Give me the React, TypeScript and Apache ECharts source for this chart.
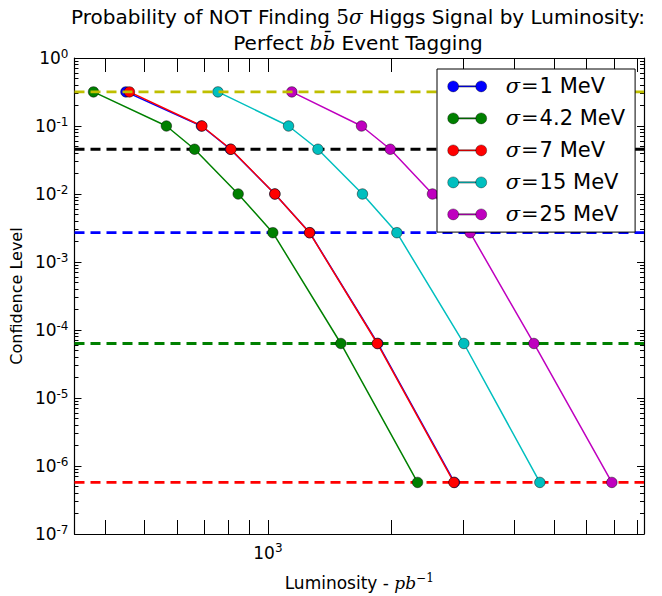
import React, { useEffect, useRef } from 'react';
import * as echarts from 'echarts';

// ---- data ----
const SIGMA_WIDTHS = ['1', '4.2', '7', '15', '25'];
const SERIES_COLORS = ['#0000ff', '#008000', '#ff0000', '#00bfbf', '#bf00bf'];
const CONFIDENCE = [0.3173, 0.1, 0.0455, 0.01, 0.0027, 6.334e-5, 5.733e-7];
const LUM_1 = [450, 688, 810, 1040, 1265, 1855, 2855];
const LUM_4_2 = [375, 565, 662, 846, 1028, 1507, 2320];
const LUM_7 = [459, 690, 812, 1040, 1264, 1850, 2846];
const LUM_15 = [755, 1123, 1325, 1702, 2065, 3010, 4615];
const LUM_25 = [1144, 1693, 1990, 2523, 3119, 4463, 6918];
const LUMINOSITIES = [LUM_1, LUM_4_2, LUM_7, LUM_15, LUM_25];
const THRESHOLDS = [0.3173, 0.0455, 0.0027, 6.334e-5, 5.733e-7];
const THRESHOLD_COLORS = ['#bfbf00', '#000000', '#0000ff', '#008000', '#ff0000'];
const X_MIN = 337;
const X_MAX = 8290;
const X_TICKS = [400, 500, 600, 700, 800, 900, 1000, 2000, 3000, 4000, 5000, 6000, 7000, 8000];
const X_TICK_LABELS = [1000];
const Y_MIN = 1e-7;
const Y_MAX = 1;
const Y_MINOR_EXPONENTS = [-7, -6, -5, -4, -3, -2, -1];
const Y_MINOR_MANTISSAS = [2, 3, 4, 5, 6, 7, 8, 9];

const FONT = 'DejaVu Sans';
const MATH = 'DejaVu Serif';

const Y_MINOR_TICKS: number[] = [];
Y_MINOR_EXPONENTS.forEach((e) => {
  Y_MINOR_MANTISSAS.forEach((m) => Y_MINOR_TICKS.push(Number(`${m}e${e}`)));
});

const supRich = {
  b: { fontFamily: FONT, fontSize: 17, color: '#000', lineHeight: 19 },
  e: { fontFamily: FONT, fontSize: 12, color: '#000', padding: [0, 0, 9, 0] },
};

const expLabel = (v: number) => `{b|10}{e|${Math.round(Math.log10(v))}}`;

const LEGEND_ICON =
  'path://M0,5.5A5.5,5.5,0,1,1,11,5.5A5.5,5.5,0,1,1,0,5.5Z M28,5.5A5.5,5.5,0,1,1,39,5.5A5.5,5.5,0,1,1,28,5.5Z M11,4.8L28,4.8L28,6.2L11,6.2Z';

export default function App() {
  const ref = useRef<HTMLDivElement>(null);

  useEffect(() => {
    if (!ref.current) return;
    const chart = echarts.init(ref.current, undefined, { renderer: 'svg' });

    const names = SIGMA_WIDTHS.map((w) => `σ=${w} MeV`);

    const lineSeries = names.map((name, i) => ({
      name,
      type: 'line',
      data: LUMINOSITIES[i].map((x, j) => [x, CONFIDENCE[j]]),
      symbol: 'circle',
      symbolSize: 10.5,
      z: 2,
      lineStyle: { color: SERIES_COLORS[i], width: 1.5 },
      itemStyle: { color: SERIES_COLORS[i], borderColor: 'rgba(0,0,0,0.6)', borderWidth: 0.8 },
      emphasis: { disabled: true },
    }));

    const thresholdSeries = THRESHOLDS.map((t, i) => ({
      name: `threshold-${i}`,
      type: 'line',
      data: [
        [X_MIN, t],
        [X_MAX, t],
      ],
      symbol: 'none',
      z: i === 0 ? 3 : 1,
      silent: true,
      lineStyle: { color: THRESHOLD_COLORS[i], type: [10, 6], width: 2.8 },
      emphasis: { disabled: true },
    }));

    const axisLine = { show: true, lineStyle: { color: '#000', width: 1.2 } };

    chart.setOption({
      animation: false,
      textStyle: { fontFamily: FONT },
      title: {
        text: 'Probability of NOT Finding {m|5}{mi|σ} Higgs Signal by Luminosity:\nPerfect {mi|b}{mi|b\u0304} Event Tagging',
        left: 358,
        top: 4,
        textAlign: 'center',
        padding: 0,
        textStyle: {
          fontFamily: FONT,
          fontSize: 20,
          fontWeight: 'normal',
          color: '#000',
          lineHeight: 26,
          rich: {
            m: { fontFamily: MATH, fontSize: 20, lineHeight: 26, color: '#000' },
            mi: { fontFamily: MATH, fontStyle: 'italic', fontSize: 20, lineHeight: 26, color: '#000' },
          },
        },
      },
      legend: {
        data: names,
        orient: 'vertical',
        left: 437,
        top: 69,
        z: 10,
        padding: [6.4, 10, 6.7, 10.4],
        itemGap: 10,
        itemWidth: 39,
        itemHeight: 11,
        icon: LEGEND_ICON,
        selectedMode: false,
        backgroundColor: '#fff',
        borderColor: '#000',
        borderWidth: 1,
        itemStyle: { borderWidth: 0.6, borderColor: 'rgba(0,0,0,0.6)' },
        formatter: (name: string) => `{m|σ}{q|=}{t|${name.slice(2)}}`,
        textStyle: {
          fontSize: 21,
          lineHeight: 22,
          color: '#000',
          rich: {
            m: { fontFamily: MATH, fontStyle: 'italic', fontSize: 21, color: '#000', padding: [0, 0, 0, 14] },
            q: { fontFamily: MATH, fontSize: 21, color: '#000', padding: [0, 1, 0, 1] },
            t: { fontFamily: FONT, fontSize: 21, color: '#000' },
          },
        },
      },
      grid: { left: 74, right: 18, top: 58, bottom: 62, containLabel: false },
      xAxis: [
        {
          type: 'log',
          position: 'bottom',
          min: X_MIN,
          max: X_MAX,
          axisLine,
          splitLine: { show: false },
          axisTick: { inside: true, length: 14, customValues: X_TICKS, lineStyle: { color: '#000', width: 1 } },
          axisLabel: { customValues: X_TICK_LABELS, margin: 8, formatter: expLabel, rich: supRich },
          name: 'Luminosity - {mi|pb}{e|\u22121}',
          nameLocation: 'middle',
          nameGap: 38,
          nameTextStyle: {
            fontFamily: FONT,
            fontSize: 17,
            color: '#000',
            rich: {
              mi: { fontFamily: MATH, fontStyle: 'italic', fontSize: 17, color: '#000' },
              e: { fontFamily: MATH, fontSize: 12, color: '#000', padding: [0, 0, 9, 0] },
            },
          },
        },
        {
          type: 'log',
          position: 'top',
          min: X_MIN,
          max: X_MAX,
          axisLine,
          splitLine: { show: false },
          axisTick: { inside: true, length: 14, customValues: X_TICKS, lineStyle: { color: '#000', width: 1 } },
          axisLabel: { show: false },
        },
      ],
      yAxis: [
        {
          type: 'log',
          position: 'left',
          min: Y_MIN,
          max: Y_MAX,
          axisLine,
          splitLine: { show: false },
          axisTick: { inside: true, length: 7, lineStyle: { color: '#000', width: 1 } },
          axisLabel: { margin: 6, formatter: expLabel, rich: supRich },
          name: 'Confidence Level',
          nameLocation: 'middle',
          nameGap: 48,
          nameTextStyle: { fontFamily: FONT, fontSize: 16, color: '#000' },
        },
        {
          type: 'log',
          position: 'left',
          min: Y_MIN,
          max: Y_MAX,
          axisLine: { show: false },
          splitLine: { show: false },
          axisTick: { inside: true, length: 4, customValues: Y_MINOR_TICKS, lineStyle: { color: '#000', width: 1 } },
          axisLabel: { show: false },
        },
        {
          type: 'log',
          position: 'right',
          min: Y_MIN,
          max: Y_MAX,
          axisLine,
          splitLine: { show: false },
          axisTick: { inside: true, length: 7, lineStyle: { color: '#000', width: 1 } },
          axisLabel: { show: false },
        },
        {
          type: 'log',
          position: 'right',
          min: Y_MIN,
          max: Y_MAX,
          axisLine: { show: false },
          splitLine: { show: false },
          axisTick: { inside: true, length: 4, customValues: Y_MINOR_TICKS, lineStyle: { color: '#000', width: 1 } },
          axisLabel: { show: false },
        },
      ],
      series: [...thresholdSeries, ...lineSeries],
    });

    return () => chart.dispose();
  }, []);

  return (
    <div
      ref={ref}
      style={{ position: 'absolute', left: 0, top: 0, width: 662, height: 596, background: '#fff' }}
    />
  );
}
